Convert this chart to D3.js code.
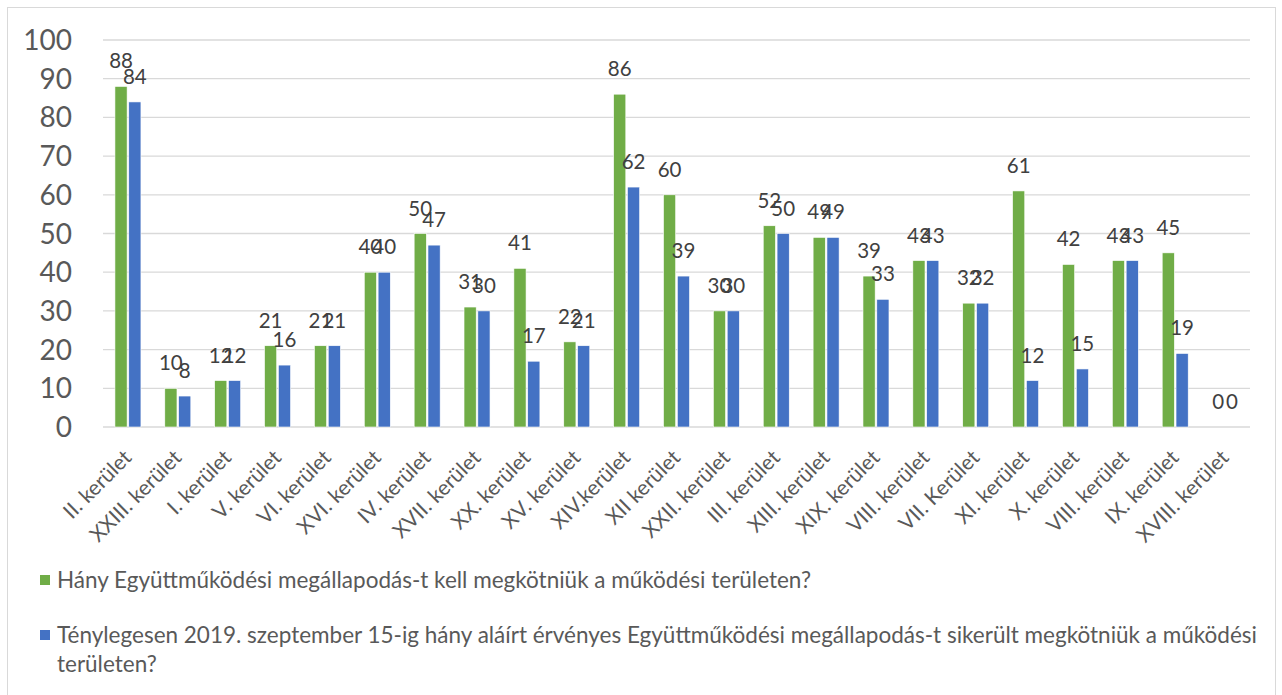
<!DOCTYPE html>
<html>
  <meta charset="utf-8" />
  <head>
    <script src="https://cdnjs.cloudflare.com/ajax/libs/d3/7.8.5/d3.min.js"></script>
    <style>
      body { margin: 0; background: #fff; }
    </style>
  </head>
  <body>
    <script>
    const categories = [
        "II. kerület", "XXIII. kerület", "I. kerület", "V. kerület", "VI. kerület",
        "XVI. kerület", "IV. kerület", "XVII. kerület", "XX. kerület", "XV. kerület",
        "XIV.kerület", "XII kerület", "XXII. kerület", "III. kerület", "XIII. kerület",
        "XIX. kerület", "VIII. kerület", "VII. Kerület", "XI. kerület", "X. kerület",
        "VIII. kerület", "IX. kerület", "XVIII. kerület",
    ];
    const required = [88, 10, 12, 21, 21, 40, 50, 31, 41, 22, 86, 60, 30, 52, 49, 39, 43, 32, 61, 42, 43, 45, 0];
    const signed = [84, 8, 12, 16, 21, 40, 47, 30, 17, 21, 62, 39, 30, 50, 49, 33, 43, 32, 12, 15, 43, 19, 0];
    const yTicks = [0, 10, 20, 30, 40, 50, 60, 70, 80, 90, 100];
    const seriesNames = [
        "Hány Együttműködési megállapodás-t kell megkötniük a működési területen?",
        "Ténylegesen 2019. szeptember 15-ig hány aláírt érvényes Együttműködési megállapodás-t sikerült megkötniük a működési",
        "területen?",
    ];

    const width = 1282;
    const height = 695;
    const colors = ["#70ad47", "#4472c4"];
    const font = "Lato, 'Open Sans', sans-serif";

    const svg = d3
        .select("body")
        .append("svg")
        .attr("width", width)
        .attr("height", height);

    // chart frame
    svg.append("rect")
        .attr("x", 7.5)
        .attr("y", 7.5)
        .attr("width", 1268)
        .attr("height", 692)
        .attr("fill", "#fff")
        .attr("stroke", "#d9d9d9");

    const x = d3.scaleBand()
        .domain(d3.range(categories.length))
        .range([103, 1250]);

    const x1 = d3.scaleBand()
        .domain([0, 1])
        .range([-13, 13])
        .paddingInner(0.12);

    const y = d3.scaleLinear().domain([0, 100]).range([427, 40]);

    // gridlines
    svg.append("g")
        .selectAll("line")
        .data(yTicks)
        .enter()
        .append("line")
        .attr("x1", 103)
        .attr("x2", 1250)
        .attr("y1", (d) => y(d))
        .attr("y2", (d) => y(d))
        .attr("stroke", "#d9d9d9")
        .attr("stroke-width", 1.3);

    // y tick labels
    svg.append("g")
        .selectAll("text")
        .data(yTicks)
        .enter()
        .append("text")
        .attr("x", 72)
        .attr("y", (d) => y(d))
        .attr("dy", "0.36em")
        .attr("text-anchor", "end")
        .attr("font-family", font)
        .attr("font-size", "28px")
        .attr("fill", "#595959")
        .text((d) => d);

    const series = [required, signed];

    series.forEach((values, s) => {
        const g = svg.append("g");
        g.selectAll("rect")
            .data(values)
            .enter()
            .append("rect")
            .attr("x", (d, i) => x(i) + x.bandwidth() / 2 + x1(s))
            .attr("width", x1.bandwidth())
            .attr("y", (d) => y(d))
            .attr("height", (d) => y(0) - y(d))
            .attr("fill", colors[s])
            .attr("stroke", "#fff")
            .attr("stroke-width", 0.6);

        g.selectAll("text")
            .data(values)
            .enter()
            .append("text")
            .attr("x", (d, i) => x(i) + x.bandwidth() / 2 + x1(s) + x1.bandwidth() / 2)
            .attr("y", (d) => y(d) - 18)
            .attr("text-anchor", "middle")
            .attr("font-family", font)
            .attr("font-size", "20.5px")
            .attr("fill", "#404040")
            .text((d) => d);
    });

    // category labels
    svg.append("g")
        .selectAll("text")
        .data(categories)
        .enter()
        .append("text")
        .attr("transform", (d, i) => `translate(${x(i) + x.bandwidth() / 2 + 5}, 459) rotate(-45)`)
        .attr("text-anchor", "end")
        .attr("font-family", font)
        .attr("font-size", "21px")
        .attr("fill", "#595959")
        .text((d) => d);

    // legend
    const legend = svg.append("g").attr("font-family", font).attr("font-size", "22.5px").attr("fill", "#595959");
    legend.append("rect").attr("x", 40).attr("y", 575).attr("width", 10).attr("height", 10).attr("fill", colors[0]);
    legend.append("text").attr("x", 57).attr("y", 588).text(seriesNames[0]);
    legend.append("rect").attr("x", 40).attr("y", 630).attr("width", 10).attr("height", 10).attr("fill", colors[1]);
    legend.append("text").attr("x", 57).attr("y", 643).text(seriesNames[1]);
    legend.append("text").attr("x", 57).attr("y", 672).text(seriesNames[2]);
</script>
</body>
</html>
